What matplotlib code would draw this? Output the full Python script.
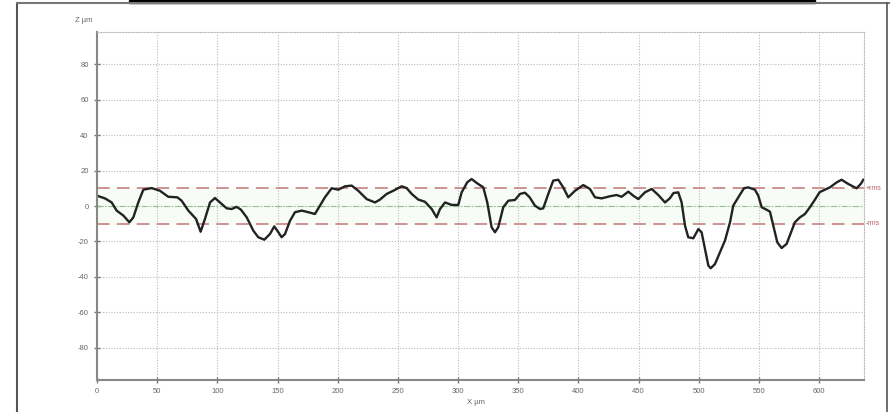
import matplotlib.pyplot as plt
import matplotlib
from matplotlib.lines import Line2D
from matplotlib.patches import Rectangle

matplotlib.rcParams['font.family'] = ['Liberation Sans', 'DejaVu Sans']
matplotlib.rcParams['axes.unicode_minus'] = False

# profile data (X in um, Z in um)
x_um = [0, 6.6, 12.2, 16.3, 21.9, 26.9, 30.2, 34.3, 38.5, 45.4, 52.3, 59.2, 66.7,
        70.3, 75.9, 82.3, 86.1, 89.7, 93.9, 98, 102.2, 107.7, 111.9, 116, 119.5,
        124.4, 129.9, 134, 139, 143.7, 147.3, 150.7, 153.4, 156.2, 160.4, 164.5,
        170.1, 175.6, 181.1, 185.3, 189.4, 195, 200.5, 206.1, 211.6, 217.1, 224.1,
        231, 235.1, 240.7, 246.2, 253.2, 257.3, 261.5, 267, 272.5, 278.1, 282.2,
        285, 289.2, 294.7, 300.2, 303, 307.7, 311.3, 315.5, 321, 324.3, 327.9,
        330.7, 333.4, 337.6, 341.8, 347.3, 351.5, 355.6, 359.5, 363.9, 368.1,
        370.8, 375, 379.1, 383.3, 387.4, 391.6, 397.2, 404.1, 409.6, 413.8, 419.3,
        426.3, 431.8, 435.9, 441.5, 445.6, 449.8, 455.3, 460.9, 466.4, 472, 476.1,
        479, 483, 485.8, 488.6, 491.3, 495.5, 499.7, 502.4, 505.2, 508, 510,
        513.5, 517.7, 521.8, 526, 528.7, 532.9, 537.6, 541.2, 546.7, 549.5, 552.3,
        556.4, 559.2, 562, 565.3, 568.9, 573, 577.2, 579.9, 584.1, 588.3, 592.4,
        596.6, 600.5, 609, 614.6, 618.7, 624.3, 631.2, 634.6, 636.8]
z_um = [5.8, 4.3, 2, -2.6, -5.4, -9.2, -6.4, 2, 9.2, 10.1, 8.6, 5.2, 4.9,
        3, -2.6, -7.3, -14.5, -7.3, 2, 4.5, 2, -1.3, -1.7, -0.5, -2,
        -6.4, -13.9, -17.6, -19, -15.8, -11.5, -14.8, -17.6, -15.8, -8.3, -3.5,
        -2.6, -3.5, -4.5, 0.2, 4.9, 10, 9.2, 11.1, 11.5, 8.6, 3.9,
        2, 3.6, 6.8, 8.6, 11.1, 10.1, 6.8, 3.6, 2.4, -1.7, -6.4,
        -1.7, 2, 0.6, 0.6, 7.7, 13.4, 15.2, 13, 10.5, 2, -12,
        -14.8, -12, -0.7, 3, 3.4, 6.8, 7.5, 4.9, 0.2, -1.7,
        -1.3, 6.8, 14.3, 14.8, 10.5, 4.9, 8.6, 11.8, 9.6, 4.9, 4.3,
        5.5, 6.2, 5.2, 8.1, 5.8, 3.9, 7.7, 9.6, 6.2, 2, 4.4,
        7.3, 7.7, 2, -11.1, -17.6, -18.2, -13, -14.8, -24.2, -33.6, -35.1,
        -32.7, -26.1, -19.5, -9.2, 0.2, 4.9, 10, 10.5, 9.2, 5.8, -0.7,
        -2.1, -3.2, -11.1, -20.5, -23.7, -21.4, -13.9, -9.2, -6.4, -4.5, -0.7,
        3.6, 7.8, 10.5, 13.3, 14.8, 12.4, 10, 12.4, 14.8]
rms = 10
x_ticks = list(range(0, 601, 50))
y_ticks = [-80, -60, -40, -20, 0, 20, 40, 60, 80]

fig = plt.figure(figsize=(8.9, 4.12), dpi=100)
ax = fig.add_axes([0.109, 0.078, 0.862, 0.844])

# band between -rms and +rms
ax.axhspan(-rms, rms, color='#f7fcf7', zorder=0)
ax.axhline(rms, color='#c98a8a', linestyle=(0, (7, 4)), linewidth=1.3)
ax.axhline(-rms, color='#c98a8a', linestyle=(0, (7, 4)), linewidth=1.3)
ax.axhline(0, color='#8cc48c', linestyle=(0, (5, 2, 1, 2)), linewidth=0.8)

ax.plot(x_um, z_um, color='#222222', linewidth=1.7, solid_joinstyle='round')

ax.set_xlim(0, 637.5)
ax.set_ylim(-98, 98)
ax.set_xticks(x_ticks)
ax.set_yticks(y_ticks)
ax.grid(True, color='#bbbbbb', linestyle=(0, (1, 1.5)), linewidth=0.8)
ax.set_axisbelow(True)

for side in ['left', 'bottom']:
    ax.spines[side].set_color('#888888')
    ax.spines[side].set_linewidth(1.5)
for side in ['top', 'right']:
    ax.spines[side].set_color('#bbbbbb')
    ax.spines[side].set_linestyle((0, (1, 1.5)))
    ax.spines[side].set_linewidth(0.8)

ax.tick_params(direction='inout', length=4, width=1, color='#777777',
               labelsize=5.5, labelcolor='#666666', pad=4)

ax.text(639, rms, '+rms', color='#c06060', fontsize=5, va='center', ha='left',
        clip_on=False)
ax.text(639, -rms, '-rms', color='#c06060', fontsize=5, va='center', ha='left',
        clip_on=False)

fig.text(75 / 890, 1 - 21 / 412, 'Z µm', fontsize=5.5, color='#666666', ha='left', va='center')
fig.text(476 / 890, 1 - 402 / 412, 'X µm', fontsize=5.5, color='#666666', ha='center', va='center')

# page frame around the chart
fig.add_artist(Line2D([17 / 890, 17 / 890], [0, 1 - 3 / 412], color='#555555', linewidth=1.5))
fig.add_artist(Line2D([17 / 890, 1], [1 - 3 / 412, 1 - 3 / 412], color='#777777', linewidth=1.5))
fig.add_artist(Line2D([887 / 890, 887 / 890], [0, 1 - 3 / 412], color='#555555', linewidth=1.2))
fig.add_artist(Rectangle((129 / 890, 1 - 3 / 412), 686 / 890, 3 / 412,
                         transform=fig.transFigure, color='black'))

plt.savefig('out.png', dpi=100, facecolor='white')
